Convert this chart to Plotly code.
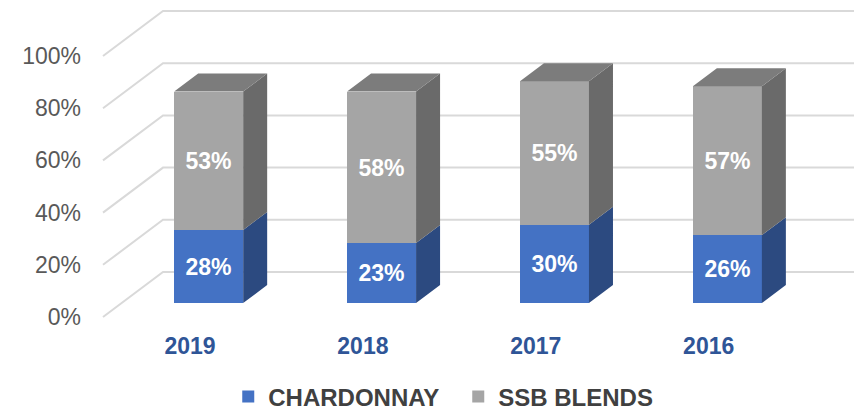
import plotly.graph_objects as go

# ---------------- data ----------------
years = ["2019", "2018", "2017", "2016"]
chardonnay = [28, 23, 30, 26]
ssb_blends = [53, 58, 55, 57]
y_ticks = [0, 20, 40, 60, 80, 100]

# ---------------- geometry (pixels) ----------------
W, H = 863, 411
L, R, T, B = 96, 856, 0, 330        # plot area in page pixels
PX_X = 172.9                        # px per category step
PX_Y = 2.61                         # px per percent
X0_PX = 190                         # page px of category 0 on front plane
Y0_PX = 317                         # page px of 0% on front plane
WALL_LEFT_PX = 103

xmin = -(X0_PX - L) / PX_X
xmax = xmin + (R - L) / PX_X
ymin = -(B - Y0_PX) / PX_Y
ymax = ymin + (B - T) / PX_Y


def dxu(px):
    return px / PX_X


def dyu(px):
    return px / PX_Y


SLOPE = 4.0 / 3.0                   # x shift per unit of y shift along depth
BAR_Z = 14                          # depth of bar front (px of vertical shift)
BAR_D = 18                          # bar depth (px of vertical shift)
WALL_Z = 45                         # back wall depth

bar_w = dxu(69)
bx_off = dxu(BAR_Z * SLOPE)
by_off = dyu(BAR_Z)
ddx = dxu(BAR_D * SLOPE)
ddy = dyu(BAR_D)

xs = [i + bx_off for i in range(len(years))]
front_left = xmin + dxu(WALL_LEFT_PX - L)

C_BLUE, C_BLUE_SIDE = "#4472C4", "#2C4A80"
C_GRAY, C_GRAY_SIDE, C_GRAY_TOP = "#A5A5A5", "#6A6A6A", "#7C7C7C"
FONT = "Liberation Sans, Arial, sans-serif"

fig = go.Figure()

# gridlines: left wall diagonal + back wall horizontal (drawn below traces)
shapes = []
for t in y_ticks:
    x_a, y_a = front_left, t
    x_b, y_b = front_left + dxu(WALL_Z * SLOPE), t + dyu(WALL_Z)
    x_c = xmin + dxu(854 - L)
    shapes.append(dict(
        type="path", xref="x", yref="y", layer="below",
        path=f"M {x_a},{y_a} L {x_b},{y_b} L {x_c},{y_b}",
        line=dict(color="#D9D9D9", width=2),
    ))

# front faces
fig.add_trace(go.Bar(
    x=xs, y=chardonnay, base=[by_off] * len(years), width=bar_w,
    name="CHARDONNAY", marker=dict(color=C_BLUE, line=dict(width=0)),
    text=[f"{v}%" for v in chardonnay], textposition="inside",
    insidetextanchor="middle", textangle=0, constraintext="none",
    textfont=dict(color="white", size=23, family=FONT, weight="bold"),
    hoverinfo="skip",
))
fig.add_trace(go.Bar(
    x=xs, y=ssb_blends, base=[by_off + c for c in chardonnay], width=bar_w,
    name="SSB BLENDS", marker=dict(color=C_GRAY, line=dict(width=0)),
    text=[f"{v}%" for v in ssb_blends], textposition="inside",
    insidetextanchor="middle", textangle=0, constraintext="none",
    textfont=dict(color="white", size=23, family=FONT, weight="bold"),
    hoverinfo="skip",
))


def side_poly(lo_list, hi_list):
    px, py = [], []
    for x, lo, hi in zip(xs, lo_list, hi_list):
        xr = x + bar_w / 2
        px += [xr, xr + ddx, xr + ddx, xr, xr, None]
        py += [lo, lo + ddy, hi + ddy, hi, lo, None]
    return px, py


blue_lo = [by_off] * len(years)
blue_hi = [by_off + c for c in chardonnay]
gray_hi = [by_off + c + s for c, s in zip(chardonnay, ssb_blends)]

bx, byy = side_poly(blue_lo, blue_hi)
fig.add_trace(go.Scatter(x=bx, y=byy, fill="toself", fillcolor=C_BLUE_SIDE,
                         mode="lines", line=dict(width=0, color=C_BLUE_SIDE),
                         showlegend=False, hoverinfo="skip"))
gx, gy = side_poly(blue_hi, gray_hi)
fig.add_trace(go.Scatter(x=gx, y=gy, fill="toself", fillcolor=C_GRAY_SIDE,
                         mode="lines", line=dict(width=0, color=C_GRAY_SIDE),
                         showlegend=False, hoverinfo="skip"))
tx, ty = [], []
for x, top in zip(xs, gray_hi):
    xl, xr = x - bar_w / 2, x + bar_w / 2
    tx += [xl, xl + ddx, xr + ddx, xr, xl, None]
    ty += [top, top + ddy, top + ddy, top, top, None]
fig.add_trace(go.Scatter(x=tx, y=ty, fill="toself", fillcolor=C_GRAY_TOP,
                         mode="lines", line=dict(width=0, color=C_GRAY_TOP),
                         showlegend=False, hoverinfo="skip"))

fig.update_layout(
    width=W, height=H,
    margin=dict(l=L, r=W - R, t=T, b=H - B, pad=0),
    paper_bgcolor="white", plot_bgcolor="white",
    barmode="overlay", bargap=0,
    shapes=shapes,
    showlegend=True,
    legend=dict(
        orientation="h", xref="container", yref="container",
        x=0.531, xanchor="center", y=1 - 397 / H, yanchor="middle",
        entrywidth=185, entrywidthmode="pixels",
        font=dict(family=FONT, size=24, color="#404040", weight="bold"),
        traceorder="normal", itemclick=False, itemdoubleclick=False,
    ),
    xaxis=dict(
        range=[xmin, xmax], tickmode="array",
        tickvals=list(range(len(years))), ticktext=years,
        showgrid=False, zeroline=False, showline=False, ticks="",
        tickfont=dict(family=FONT, size=23, color="#2F5597", weight="bold"),
        fixedrange=True,
    ),
    yaxis=dict(
        range=[ymin, ymax], tickmode="array", tickvals=y_ticks,
        ticktext=[f"{t}%" for t in y_ticks],
        showgrid=False, zeroline=False, showline=False, ticks="",
        ticklabelstandoff=14,
        tickfont=dict(family=FONT, size=23, color="#595959"),
        fixedrange=True,
    ),
)

fig.write_html(
    "out.html",
    config={"displayModeBar": False},
    post_script="document.body.style.margin='0px';document.body.style.overflow='hidden';",
)
